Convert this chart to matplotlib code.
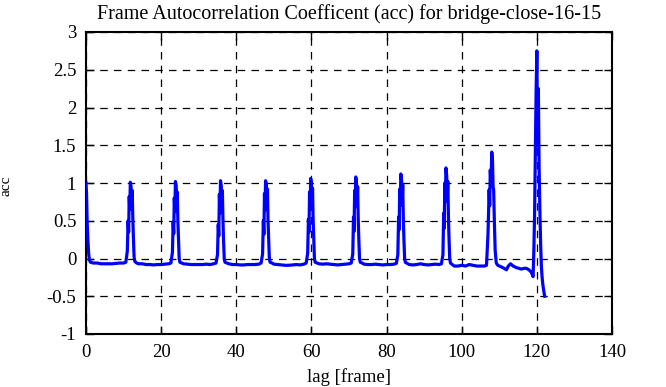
import matplotlib
matplotlib.use("Agg")
import matplotlib.pyplot as plt

# valores (lag en frames, acc)
lag_ini = [0, 0.15, 0.3, 0.5, 0.7, 0.9, 1.2, 2, 3, 4, 5, 6, 7, 8, 9, 10, 10.6]
acc_ini = [1.0, 0.85, 0.5, 0.25, 0.07, -0.02, -0.05, -0.06, -0.06, -0.07, -0.07, -0.07, -0.07, -0.065, -0.06, -0.06, -0.05]

lag_p12 = [11.0, 11.2, 11.35, 11.5, 11.65, 11.8, 12.0, 12.15, 12.3, 12.45, 12.6, 12.8, 13.0]
acc_p12 = [0.1, 0.5, 0.35, 0.82, 0.65, 1.01, 0.95, 0.72, 0.9, 0.55, 0.3, 0.02, -0.04]
lag_b12 = [13.5, 14, 15, 16, 17, 18, 19, 20, 21, 22, 22.6]
acc_b12 = [-0.06, -0.07, -0.07, -0.08, -0.08, -0.085, -0.08, -0.08, -0.075, -0.07, -0.06]

lag_p24 = [23.0, 23.2, 23.35, 23.5, 23.65, 23.8, 24.0, 24.15, 24.3, 24.45, 24.6, 24.8, 25.0]
acc_p24 = [0.08, 0.48, 0.33, 0.8, 0.62, 1.02, 0.97, 0.7, 0.88, 0.5, 0.28, 0.0, -0.05]
lag_b24 = [25.5, 26, 27, 28, 29, 30, 31, 32, 33, 34, 34.6]
acc_b24 = [-0.06, -0.07, -0.075, -0.08, -0.08, -0.08, -0.08, -0.075, -0.08, -0.07, -0.06]

lag_p36 = [35.0, 35.2, 35.35, 35.5, 35.65, 35.8, 36.0, 36.15, 36.3, 36.45, 36.6, 36.8, 37.0]
acc_p36 = [0.05, 0.45, 0.3, 0.85, 0.6, 1.03, 0.96, 0.68, 0.9, 0.52, 0.25, -0.01, -0.05]
lag_b36 = [37.5, 38, 39, 40, 41, 42, 43, 44, 45, 46, 46.6]
acc_b36 = [-0.06, -0.07, -0.08, -0.08, -0.085, -0.085, -0.08, -0.08, -0.08, -0.075, -0.06]

lag_p48 = [47.0, 47.2, 47.35, 47.5, 47.65, 47.8, 48.0, 48.15, 48.3, 48.45, 48.6, 48.8, 49.0]
acc_p48 = [0.06, 0.5, 0.32, 0.86, 0.64, 1.03, 0.97, 0.7, 0.92, 0.5, 0.27, 0.0, -0.05]
lag_b48 = [49.5, 50, 51, 52, 53, 54, 55, 56, 57, 58, 58.6]
acc_b48 = [-0.06, -0.075, -0.08, -0.085, -0.09, -0.09, -0.085, -0.08, -0.085, -0.075, -0.06]

lag_p60 = [59.0, 59.2, 59.35, 59.5, 59.65, 59.8, 60.0, 60.15, 60.3, 60.45, 60.6, 60.8, 61.0]
acc_p60 = [0.07, 0.52, 0.35, 0.88, 0.66, 1.06, 0.99, 0.72, 0.93, 0.52, 0.28, 0.0, -0.05]
lag_b60 = [61.5, 62, 63, 64, 65, 66, 67, 68, 69, 70, 70.6]
acc_b60 = [-0.06, -0.07, -0.075, -0.07, -0.075, -0.08, -0.085, -0.08, -0.075, -0.07, -0.06]

lag_p72 = [71.0, 71.2, 71.35, 71.5, 71.65, 71.8, 72.0, 72.15, 72.3, 72.45, 72.6, 72.8, 73.0]
acc_p72 = [0.06, 0.55, 0.36, 0.9, 0.68, 1.08, 1.0, 0.74, 0.95, 0.53, 0.28, 0.0, -0.05]
lag_b72 = [73.5, 74, 75, 76, 77, 78, 79, 80, 81, 82, 82.6]
acc_b72 = [-0.06, -0.075, -0.08, -0.08, -0.075, -0.08, -0.085, -0.08, -0.08, -0.075, -0.065]

lag_p84 = [83.0, 83.2, 83.35, 83.5, 83.65, 83.8, 84.0, 84.15, 84.3, 84.45, 84.6, 84.8, 85.0]
acc_p84 = [0.05, 0.55, 0.38, 0.92, 0.7, 1.12, 1.03, 0.75, 0.98, 0.55, 0.28, 0.0, -0.05]
lag_b84 = [85.5, 86, 87, 88, 89, 90, 91, 92, 93, 94, 94.6]
acc_b84 = [-0.065, -0.08, -0.085, -0.08, -0.07, -0.08, -0.085, -0.08, -0.075, -0.08, -0.07]

lag_p96 = [95.0, 95.2, 95.35, 95.5, 95.65, 95.8, 96.0, 96.15, 96.3, 96.45, 96.6, 96.8, 97.0]
acc_p96 = [0.05, 0.6, 0.4, 1.0, 0.75, 1.2, 1.1, 0.8, 1.02, 0.58, 0.3, 0.0, -0.06]
lag_b96 = [97.5, 98, 99, 100, 101, 102, 103, 104, 105, 106, 106.6]
acc_b96 = [-0.08, -0.1, -0.1, -0.09, -0.1, -0.08, -0.09, -0.1, -0.1, -0.1, -0.09]

lag_p108 = [107.0, 107.3, 107.45, 107.6, 107.8, 108.0, 108.2, 108.35, 108.5, 108.7, 108.9, 109.2]
acc_p108 = [0.33, 0.91, 0.7, 1.17, 1.0, 1.41, 1.3, 0.95, 0.91, 0.47, 0.11, -0.06]
lag_b108 = [109.6, 110.5, 111.3, 111.9, 112.4, 113.0, 113.7, 114.5, 115.2, 115.9, 116.6, 117.2, 117.9, 118.5, 119.0]
acc_b108 = [-0.09, -0.11, -0.13, -0.15, -0.1, -0.07, -0.1, -0.12, -0.13, -0.14, -0.13, -0.13, -0.15, -0.18, -0.24]

lag_p120 = [119.2, 119.4, 119.6, 119.8, 120.0, 120.2, 120.4, 120.6, 120.8, 121.0, 121.2, 121.4, 121.6, 121.8, 122.0, 122.1]
acc_p120 = [0.1, 0.6, 1.4, 2.2, 2.75, 1.5, 2.25, 1.2, 0.65, 0.2, -0.1, -0.25, -0.35, -0.42, -0.48, -0.5]

lag = (lag_ini + lag_p12 + lag_b12 + lag_p24 + lag_b24 + lag_p36 + lag_b36 + lag_p48 + lag_b48
       + lag_p60 + lag_b60 + lag_p72 + lag_b72 + lag_p84 + lag_b84 + lag_p96 + lag_b96
       + lag_p108 + lag_b108 + lag_p120)
acc = (acc_ini + acc_p12 + acc_b12 + acc_p24 + acc_b24 + acc_p36 + acc_b36 + acc_p48 + acc_b48
       + acc_p60 + acc_b60 + acc_p72 + acc_b72 + acc_p84 + acc_b84 + acc_p96 + acc_b96
       + acc_p108 + acc_b108 + acc_p120)

xticks = [0, 20, 40, 60, 80, 100, 120, 140]
yticks = [-1, -0.5, 0, 0.5, 1, 1.5, 2, 2.5, 3]
ytick_labels = ["-1", "-0.5", "0", "0.5", "1", "1.5", "2", "2.5", "3"]

plt.rcParams['font.family'] = ['Liberation Serif', 'DejaVu Serif']

fig = plt.figure(figsize=(6.66, 3.87), dpi=100)
ax = fig.add_axes([86 / 666, 53 / 387, 526 / 666, 302 / 387])

ax.plot(lag, acc, color=(0, 0, 1), linewidth=2.3, zorder=3)

ax.set_xlim(0, 140)
ax.set_ylim(-1, 3)
ax.set_xticks(xticks)
ax.set_yticks(yticks)
ax.set_yticklabels(ytick_labels)
ax.tick_params(direction='in', length=6, width=1, labelsize=13.5, top=True, right=True, pad=7)
ax.grid(True, color='black', linestyle=(0, (6, 5)), linewidth=0.9)
for s in ax.spines.values():
    s.set_linewidth(1.5)

ax.set_title("Frame Autocorrelation Coefficent (acc) for bridge-close-16-15", fontsize=14.5, pad=9)
ax.set_xlabel("lag [frame]", fontsize=13.5, labelpad=5)
ax.set_ylabel("acc", fontsize=11)
ax.yaxis.set_label_coords(-0.14, 0.49)

fig.savefig("out.png", dpi=100)
